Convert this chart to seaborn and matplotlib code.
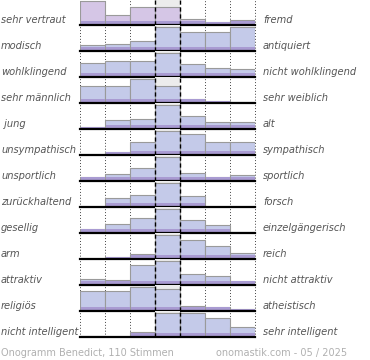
import numpy as np
import pandas as pd
import matplotlib
matplotlib.use("Agg")
import matplotlib.pyplot as plt
import seaborn as sns

# scale positions (7 steps between the two poles)
categories = ["-3", "-2", "-1", "0", "1", "2", "3"]

left_labels = ["sehr vertraut", "modisch", "wohlklingend", "sehr männlich", " jung",
               "unsympathisch", "unsportlich", "zurückhaltend", "gesellig", "arm",
               "attraktiv", "religiös", "nicht intelligent"]
right_labels = ["fremd", "antiquiert", "nicht wohlklingend", "sehr weiblich", "alt",
                "sympathisch", "sportlich", "forsch", "einzelgängerisch", "reich",
                "nicht attraktiv", "atheistisch", "sehr intelligent"]

# relative vote shares per row (row max ~ 24)
r01 = [24, 10, 18, 18, 6, 3, 5]
r02 = [6, 7, 10, 24, 19, 19, 24]
r03 = [14, 16, 16, 24, 13, 9, 8]
r04 = [17, 17, 24, 17, 4, 2, 1]
r05 = [2, 9, 10, 24, 13, 7, 7]
r06 = [0, 3, 13, 24, 21, 13, 13]
r07 = [4, 7, 13, 24, 8, 4, 6]
r08 = [0, 9, 12, 24, 11, 0, 0]
r09 = [4, 9, 15, 24, 13, 8, 1]
r10 = [0, 2, 5, 24, 19, 13, 6]
r11 = [6, 5, 20, 24, 11, 9, 4]
r12 = [20, 20, 24, 22, 5, 4, 2]
r13 = [1.5, 0, 5, 24, 24, 19, 10]
rows = [r01, r02, r03, r04, r05, r06, r07, r08, r09, r10, r11, r12, r13]

footer_left = "Onogramm Benedict, 110 Stimmen"
footer_right = "onomastik.com - 05 / 2025"

W, H = 370, 360
fig = plt.figure(figsize=(W / 100, H / 100), dpi=100)
fig.patch.set_facecolor("white")

x0_px, x1_px = 80, 255
row_h = 26
first_base = 25
text_col = "#555555"

for i, vals in enumerate(rows):
    base = first_base + row_h * i
    ax = fig.add_axes([x0_px / W, 1 - base / H, (x1_px - x0_px) / W, row_h / H])
    ax.set_xlim(-0.5, 6.5)
    ax.set_ylim(0, row_h)
    ax.axvspan(2.5, 3.5, color="#ececec", zorder=0, lw=0)
    for xv in [-0.5, 0.5, 1.5, 4.5, 5.5, 6.5]:
        ax.axvline(xv, color="#444444", lw=0.7, ls=(0, (1, 2)), zorder=0.5, clip_on=False)
    df = pd.DataFrame({"pos": categories, "val": vals})
    bar_col = "#d5c6e6" if i == 0 else "#c4cae9"
    sns.barplot(data=df, x="pos", y="val", ax=ax, width=1, color=bar_col,
                edgecolor="#9a9a9a", linewidth=0.8, saturation=1, zorder=1)
    df2 = pd.DataFrame({"pos": categories, "val": np.minimum(np.array(vals, float), 4)})
    sns.barplot(data=df2, x="pos", y="val", ax=ax, width=0.96, color="#a99bd2",
                linewidth=0, saturation=1, zorder=2)
    ax.set_xlim(-0.5, 6.5)
    ax.set_ylim(0, row_h)
    for xv in [2.5, 3.5]:
        ax.axvline(xv, color="black", lw=1.0, ls=(0, (3, 2)), zorder=3, clip_on=False)
    ax.axhline(0, color="black", lw=1.6, zorder=4, clip_on=False)
    ax.axis("off")
    ty = 1 - (base - 5) / H
    fig.text(1 / W, ty, left_labels[i], ha="left", va="center", fontsize=7.1,
             style="italic", color=text_col)
    fig.text(263 / W, ty, right_labels[i], ha="left", va="center", fontsize=7.1,
             style="italic", color=text_col)

fig.text(1 / W, 1 - 353 / H, footer_left, ha="left", va="center", fontsize=7.0, color="#b0b0b0")
fig.text(347 / W, 1 - 353 / H, footer_right, ha="right", va="center", fontsize=7.0, color="#b0b0b0")

fig.savefig("out.png", dpi=100, facecolor="white")
